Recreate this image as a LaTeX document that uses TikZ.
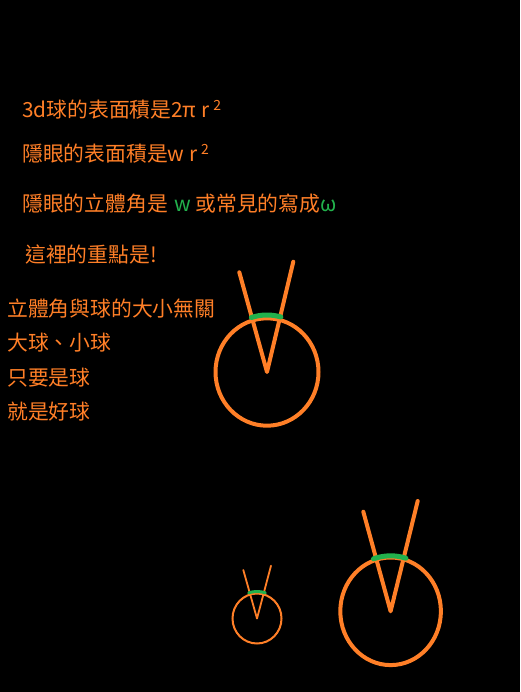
\documentclass[tikz,border=0pt]{standalone}
\usepackage{fontspec}
\setmainfont{Noto Sans CJK TC}
\definecolor{org}{HTML}{FF7F27}
\definecolor{grn}{HTML}{22B14C}
\newcommand{\supr}[1]{\hspace{4pt}\raisebox{7pt}{\fontsize{14}{14}\selectfont #1}}
\begin{document}
\begin{tikzpicture}[x=1pt,y=-1pt,
  txt/.style={anchor=base west, inner sep=0, text=org, font=\fontsize{20.8}{24}\selectfont},
  ring/.style={draw=org, line width=#1},
  vee/.style={draw=org, line width=#1, line cap=round, line join=round},
  ang/.style={draw=grn, line width=#1, line cap=round}]
\fill[black] (0,0) rectangle (520,692);
\useasboundingbox (0,0) rectangle (520,692);

\node[txt] (t1) at (22,117.6) {3d球的表面積是2π r\supr{2}};
\node[txt] (t2) at (22,161.6) {隱眼的表面積是w r\supr{2}};
\node[txt] (t3) at (22,211.6) {隱眼的立體角是\hspace{7pt}\textcolor{grn}{w}\hspace{4pt}或常見的寫成\textcolor{grn}{ω}};
\node[txt] (t4) at (25,262.6) {這裡的重點是!};
\node[txt] (t5) at (7,316.6) {立體角與球的大小無關};
\node[txt] (t6) at (7,350) {大球、小球};
\node[txt] (t7) at (7,385) {只要是球};
\node[txt] (t8) at (7,419) {就是好球};

% circle 1
\coordinate (c1) at (267,372);
\coordinate (a1) at (239.3,272.3);
\coordinate (b1) at (293.3,261.7);
\draw[ring=4] (c1) ellipse [x radius=51.5, y radius=53.7];
\draw[vee=4] (a1) -- (c1) -- (b1);
\draw[ang=5] (c1) ++(-107:53.5 and 57) arc[start angle=-107, end angle=-75, x radius=53.5, y radius=57];

% circle 2
\coordinate (c2) at (257,618.5);
\coordinate (a2) at (243.3,570);
\coordinate (b2) at (271,565.7);
\draw[ring=2] (c2) ellipse [x radius=24.5, y radius=25];
\draw[vee=1.8] (a2) -- (c2) -- (b2);
\draw[ang=3] (c2) ++(-108:27 and 27) arc[start angle=-108, end angle=-72, x radius=27, y radius=27];

% circle 3
\coordinate (c3) at (390.6,611.3);
\coordinate (a3) at (363.3,511.7);
\coordinate (b3) at (417.7,501);
\draw[ring=4] (c3) ellipse [x radius=50.3, y radius=53.8];
\draw[vee=4] (a3) -- (c3) -- (b3);
\draw[ang=5] (c3) ++(-109:52.5 and 55.5) arc[start angle=-109, end angle=-73, x radius=52.5, y radius=55.5];
\end{tikzpicture}
\end{document}
